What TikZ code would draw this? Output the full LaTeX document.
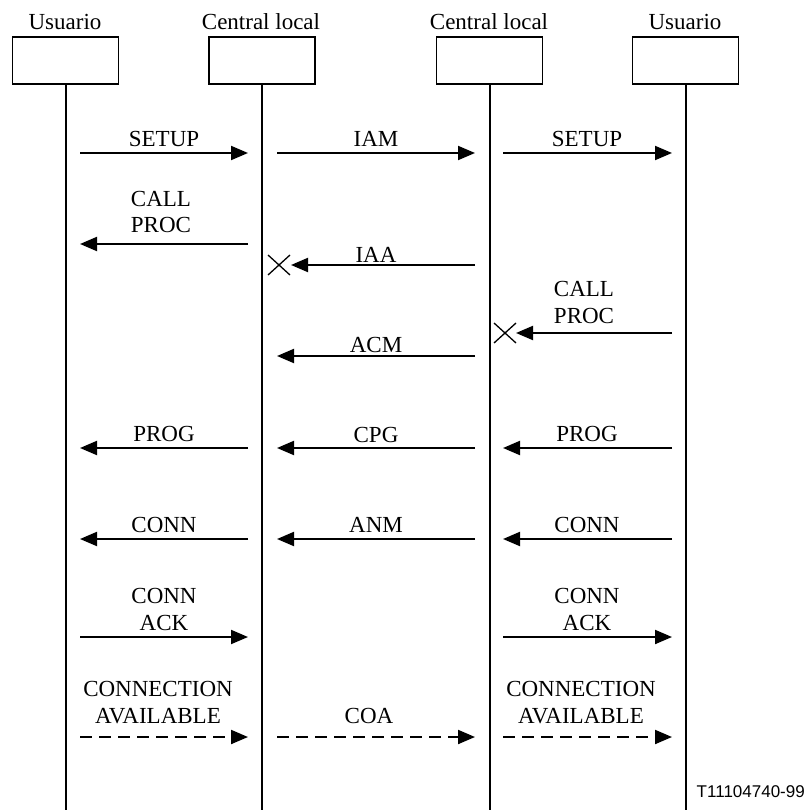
\documentclass[tikz,border=0pt]{standalone}
\usepackage{fontspec}
\setmainfont{Liberation Serif}
\newfontfamily\arialf{Liberation Sans}
\usetikzlibrary{arrows.meta}
\newcommand{\twol}[2]{\begin{tabular}[b]{@{}c@{}}#1\\#2\end{tabular}}
\begin{document}
\begin{tikzpicture}[x=1pt,y=-1pt,
  box/.style={draw,line width=1.2pt,minimum width=106pt,minimum height=47pt,inner sep=0pt},
  life/.style={line width=2pt},
  msg/.style={line width=2pt,-{Triangle[length=17pt,width=14pt]}},
  dmsg/.style={msg,dash pattern=on 12pt off 7pt},
  lbl/.style={anchor=base,inner sep=0pt,font=\fontsize{23}{26.5}\selectfont},
  xmark/.style={line width=1.3pt}]
\useasboundingbox (0,0) rectangle (807,810);
\coordinate (bot) at (0,812);
% entities
\node[box] (u1) at (65.5,60.5) {};
\node[box] (c1) at (262,60.5) {};
\node[box] (c2) at (489.5,60.5) {};
\node[box] (u2) at (685.5,60.5) {};
\node[lbl] (h1) at (65,30) {Usuario};
\node[lbl] (h2) at (261,30) {Central local};
\node[lbl] (h3) at (489,30) {Central local};
\node[lbl] (h4) at (685,30) {Usuario};
% lifelines
\draw[life] (u1.south) -- (u1.south |- bot);
\draw[life] (c1.south) -- (c1.south |- bot);
\draw[life] (c2.south) -- (c2.south |- bot);
\draw[life] (u2.south) -- (u2.south |- bot);
% row 1
\path (80,153) coordinate (a1) (248,153) coordinate (a2)
      (277,153) coordinate (a3) (475,153) coordinate (a4)
      (503,153) coordinate (a5) (672,153) coordinate (a6);
\draw[msg] (a1) -- (a2);
\draw[msg] (a3) -- (a4);
\draw[msg] (a5) -- (a6);
\node[lbl] (t1) at (164,147) {SETUP};
\node[lbl] (t2) at (376,147) {IAM};
\node[lbl] (t3) at (587,147) {SETUP};
% CALL PROC left
\path (248,244) coordinate (b1) (80,244) coordinate (b2);
\draw[msg] (b1) -- (b2);
\node[lbl] (t4) at (161,233) {\twol{CALL}{PROC}};
% IAA
\path (475,265) coordinate (c1a) (291,265) coordinate (c1b);
\draw[msg] (c1a) -- (c1b);
\draw[xmark] (268,255) -- (290,275) (268,275) -- (290,255);
\node[lbl] (t5) at (376,262) {IAA};
% CALL PROC right
\path (672,333) coordinate (d1) (516,333) coordinate (d2);
\draw[msg] (d1) -- (d2);
\draw[xmark] (494,323) -- (516,343) (494,343) -- (516,323);
\node[lbl] (t6) at (584,323) {\twol{CALL}{PROC}};
% ACM
\path (475,356) coordinate (e1) (277,356) coordinate (e2);
\draw[msg] (e1) -- (e2);
\node[lbl] (t7) at (376,352) {ACM};
% PROG row
\path (248,448) coordinate (f1) (80,448) coordinate (f2)
      (475,448) coordinate (f3) (277,448) coordinate (f4)
      (672,448) coordinate (f5) (503,448) coordinate (f6);
\draw[msg] (f1) -- (f2);
\draw[msg] (f3) -- (f4);
\draw[msg] (f5) -- (f6);
\node[lbl] (t8) at (164,441) {PROG};
\node[lbl] (t9) at (376,442) {CPG};
\node[lbl] (t10) at (587,441) {PROG};
% CONN row
\path (248,539) coordinate (g1) (80,539) coordinate (g2)
      (475,539) coordinate (g3) (277,539) coordinate (g4)
      (672,539) coordinate (g5) (503,539) coordinate (g6);
\draw[msg] (g1) -- (g2);
\draw[msg] (g3) -- (g4);
\draw[msg] (g5) -- (g6);
\node[lbl] (t11) at (164,532) {CONN};
\node[lbl] (t12) at (376,532) {ANM};
\node[lbl] (t13) at (587,532) {CONN};
% CONN ACK
\path (80,637) coordinate (h1a) (248,637) coordinate (h1b)
      (503,637) coordinate (h2a) (672,637) coordinate (h2b);
\draw[msg] (h1a) -- (h1b);
\draw[msg] (h2a) -- (h2b);
\node[lbl] (t14) at (164,630) {\twol{CONN}{ACK}};
\node[lbl] (t15) at (587,630) {\twol{CONN}{ACK}};
% dashed
\path (80,737) coordinate (k1) (248,737) coordinate (k2)
      (277,737) coordinate (k3) (475,737) coordinate (k4)
      (503,737) coordinate (k5) (672,737) coordinate (k6);
\draw[dmsg] (k1) -- (k2);
\draw[dmsg] (k3) -- (k4);
\draw[dmsg] (k5) -- (k6);
\node[lbl] (t16) at (158,723) {\twol{CONNECTION}{AVAILABLE}};
\node[lbl] (t17) at (369,723) {COA};
\node[lbl] (t18) at (581,723) {\twol{CONNECTION}{AVAILABLE}};
% figure id
\node[anchor=base east,inner sep=0pt,font=\arialf\fontsize{17}{20}\selectfont] (fid) at (805,797) {T11104740-99};
\end{tikzpicture}
\end{document}
